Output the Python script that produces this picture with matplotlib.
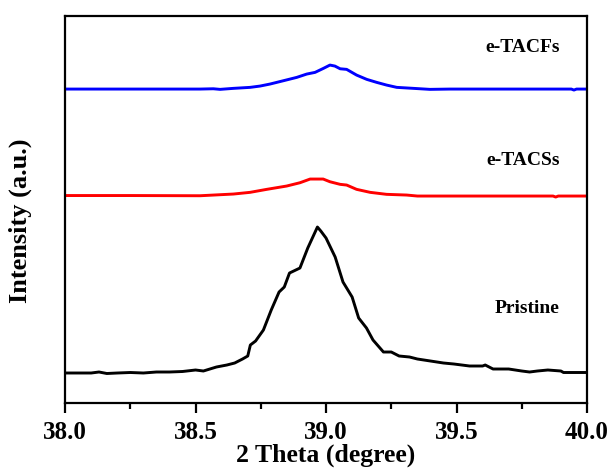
import numpy as np
import matplotlib
matplotlib.use("Agg")
import matplotlib.pyplot as plt
from matplotlib.ticker import MultipleLocator, FormatStrFormatter

plt.rcParams['font.family'] = ['Liberation Serif', 'DejaVu Serif']
plt.rcParams['font.weight'] = 'bold'

# Pristine sample (offset already included in the intensity values)
theta_pristine = [38.00, 38.05, 38.10, 38.13, 38.16, 38.20, 38.25, 38.30, 38.35, 38.40,
                  38.45, 38.50, 38.53, 38.58, 38.62, 38.65, 38.68, 38.70, 38.71, 38.73,
                  38.76, 38.79, 38.82, 38.84, 38.86, 38.90, 38.93, 38.967, 38.98, 39.00,
                  39.035, 39.065, 39.10, 39.125, 39.155, 39.18, 39.22, 39.25, 39.28, 39.32,
                  39.35, 39.40, 39.45, 39.49, 39.55, 39.60, 39.61, 39.64, 39.70, 39.75,
                  39.78, 39.81, 39.85, 39.90, 39.91, 39.96, 40.00]
int_pristine = [30, 30, 30, 31, 29.5, 30, 30.5, 30, 31, 31,
                31.5, 33, 32, 36, 38, 40, 44, 47, 58, 62,
                73, 93, 111, 116, 130, 135, 155, 176, 172, 165,
                146, 121, 106, 85, 75, 63, 51, 51, 47, 46,
                44, 42, 40, 39, 37, 37, 38, 34, 34, 32,
                31, 32, 33, 32, 30.5, 30.5, 30.5]

# e-TACSs
theta_tacss = [38.00, 38.25, 38.517, 38.645, 38.709, 38.773, 38.849, 38.90, 38.939, 38.989,
               39.015, 39.054, 39.079, 39.117, 39.169, 39.232, 39.309, 39.35, 39.475, 39.70,
               39.87, 39.88, 39.89, 40.00]
int_tacss = [207.5, 207.5, 207.3, 209, 210.7, 213.7, 217, 220.3, 224, 224,
             221.3, 218.7, 218, 213.7, 210.7, 208.7, 208, 207, 207, 207,
             207, 206, 207, 207]

# e-TACFs
theta_tacfs = [38.00, 38.25, 38.517, 38.568, 38.594, 38.645, 38.709, 38.747, 38.785, 38.836,
               38.888, 38.926, 38.958, 38.990, 39.015, 39.034, 39.054, 39.079, 39.117, 39.156,
               39.194, 39.232, 39.271, 39.335, 39.398, 39.475, 39.70, 39.94, 39.95, 39.96, 40.00]
int_tacfs = [314, 314, 314, 314.3, 313.7, 314.7, 315.7, 317, 319, 322.3,
             325.7, 329, 330.7, 334.7, 338, 337, 334.3, 333.7, 328, 323.7,
             320.7, 318, 315.7, 314.7, 313.7, 314, 314, 314, 313, 314, 314]

labels = ['Pristine', 'e-TACSs', 'e-TACFs']
label_y = [95, 243, 356]

fig = plt.figure(figsize=(6.14, 4.73), dpi=100)
ax = fig.add_axes([0.106, 0.148, 0.850, 0.818])

ax.plot(theta_pristine, int_pristine, color='black', lw=2.1)
ax.plot(theta_tacss, int_tacss, color='#ff0000', lw=2.1)
ax.plot(theta_tacfs, int_tacfs, color='#0000ff', lw=2.1)

for name, yy in zip(labels, label_y):
    ax.text(39.895, yy, name, ha='right', va='center', fontsize=14, fontweight='bold')

ax.set_xlim(38.0, 40.0)
ax.set_ylim(0, 387)
ax.xaxis.set_major_locator(MultipleLocator(0.5))
ax.xaxis.set_minor_locator(MultipleLocator(0.25))
ax.xaxis.set_major_formatter(FormatStrFormatter('%.1f'))
ax.set_yticks([])

for s in ax.spines.values():
    s.set_linewidth(1.6)
ax.tick_params(axis='x', which='major', direction='out', length=7, width=1.6,
               labelsize=18, pad=6)
ax.tick_params(axis='x', which='minor', direction='out', length=4, width=1.6)

ax.set_xlabel('2 Theta (degree)', fontsize=18.5, fontweight='bold', labelpad=0)
ax.set_ylabel('Intensity (a.u.)', fontsize=19, fontweight='bold')
ax.yaxis.set_label_coords(-0.063, 0.47)

fig.savefig('out.png', dpi=100)
